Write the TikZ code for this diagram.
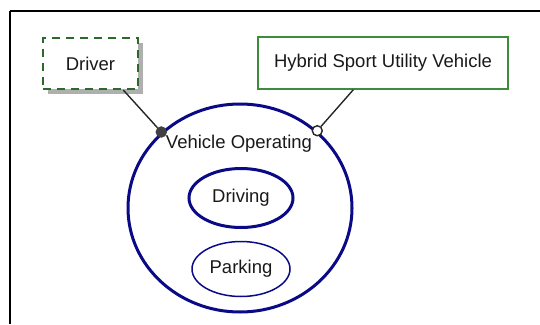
\documentclass[tikz,border=0pt]{standalone}
\usepackage{fontspec}
\setmainfont{Liberation Sans}
\usetikzlibrary{shapes.geometric,shadows}
\definecolor{navyline}{RGB}{10,10,135}
\definecolor{dashgreen}{RGB}{45,105,45}
\definecolor{boxgreen}{RGB}{60,140,60}
\definecolor{shadowgray}{RGB}{175,175,175}
\tikzset{
  lbl/.style={font=\fontsize{18.5}{22}\selectfont, text=black!90},
  actorbox/.style={lbl, draw=dashgreen, line width=2.2pt, dash pattern=on 8pt off 6pt,
    fill=white, minimum width=95pt, minimum height=51pt, inner sep=0pt,
    drop shadow={shadow xshift=5pt, shadow yshift=-5pt, fill=shadowgray, opacity=1}},
  blockbox/.style={lbl, draw=boxgreen, line width=1.5pt, fill=white,
    minimum width=250pt, minimum height=52pt, inner sep=0pt},
  state/.style={ellipse, draw=navyline, inner sep=0pt},
  link/.style={draw=black!85, line width=1.4pt},
  enddot/.style={circle, inner sep=0pt, minimum size=10pt, line width=1.4pt}
}
\begin{document}
\begin{tikzpicture}[x=1pt,y=-1pt]
  \useasboundingbox (0,0) rectangle (540,324);
  % frame edges
  \draw[line width=1.5pt] (10,11) -- (540,11);
  \draw[line width=2.5pt] (10,11) -- (10,324);

  % blocks
  \node[actorbox] (driver) at (90.5,63.5) {Driver};
  \node[blockbox] (hsuv) at (383,63) {Hybrid Sport Utility Vehicle};

  % states
  \node[state, line width=3pt, minimum width=224pt, minimum height=208pt] (vo) at (240,208) {};
  \node[lbl] (votitle) at (239,144) {Vehicle Operating};
  \node[state, lbl, line width=3pt, minimum width=104pt, minimum height=59pt] (driving) at (241,198) {Driving};
  \node[state, lbl, line width=1.5pt, minimum width=98pt, minimum height=55pt] (parking) at (241,269) {Parking};

  % connector ends
  \node[enddot, fill=black!75, draw=black!75] (pin) at (vo.136) {};
  \node[enddot, fill=white, draw=black!85] (ring) at (vo.45) {};

  % connectors
  \draw[link] (driver.-39) -- (pin);
  \draw[link] (hsuv.-138) -- (ring);
\end{tikzpicture}
\end{document}
